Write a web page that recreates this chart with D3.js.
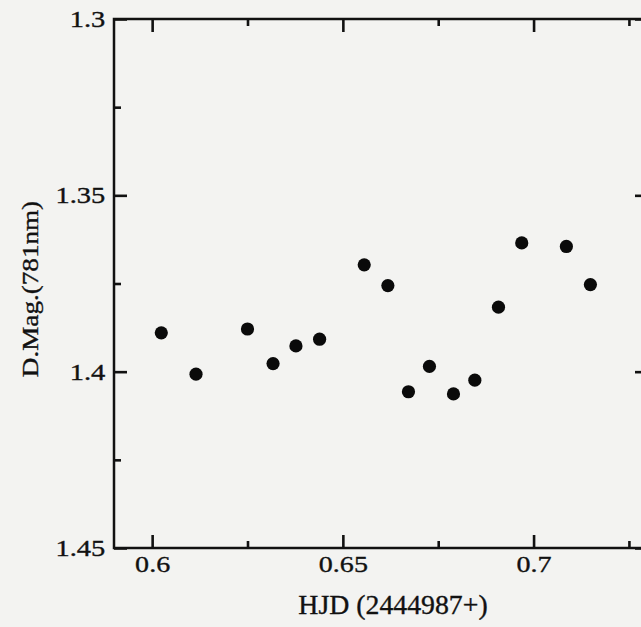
<!DOCTYPE html>
<html>
<head>
<meta charset="utf-8">
<script src="https://cdn.jsdelivr.net/npm/d3@7"></script>
<style>
  html, body { margin: 0; padding: 0; background: #f3f3f1; }
  svg { display: block; }
  text { font-family: "Liberation Serif", "Times New Roman", serif; fill: #111; }
</style>
</head>
<body>
<svg id="chart" width="641" height="627"></svg>
<script>
// Light curve: differential magnitude at 781 nm against heliocentric Julian date
const hjd  = [0.6024, 0.6115, 0.6250, 0.6317, 0.6377, 0.6439, 0.6556, 0.6618,
              0.6672, 0.6727, 0.6790, 0.6846, 0.6908, 0.6969, 0.7086, 0.7149];
const dmag = [1.3890, 1.4007, 1.3879, 1.3977, 1.3927, 1.3908, 1.3697, 1.3756,
              1.4057, 1.3985, 1.4063, 1.4024, 1.3817, 1.3635, 1.3645, 1.3753];

const xMajor = [0.6, 0.65, 0.7];
const xMinor = [0.625, 0.675, 0.725];
const xTickLabels = ["0.6", "0.65", "0.7"];
const yMajor = [1.3, 1.35, 1.4, 1.45];
const yMinor = [1.325, 1.375, 1.425];
const yTickLabels = ["1.3", "1.35", "1.4", "1.45"];

const xTitle = "HJD (2444987+)";
const yTitle = "D.Mag.(781nm)";

const svg = d3.select("#chart");
const plotLeft = 114, plotRight = 648, plotTop = 19, plotBottom = 548;

const x = d3.scaleLinear().domain([0.59, 0.73]).range([plotLeft, plotRight]);
const y = d3.scaleLinear().domain([1.3, 1.45]).range([plotTop, plotBottom]);

const major = 13, minor = 7;

// strip the axis line, thicken ticks, set the serif labels (slightly wide, as typeset)
function styleAxis(g, fontSize, widen) {
  g.select(".domain").remove();
  g.selectAll(".tick line").attr("stroke", "#111").attr("stroke-width", 2.6);
  g.selectAll(".tick text")
    .attr("fill", "#111")
    .attr("stroke", "#111")
    .attr("stroke-width", 0.35)
    .attr("transform", `scale(${widen},1)`)
    .style("font-family", '"Liberation Serif", "Times New Roman", serif')
    .style("font-size", fontSize + "px");
}

// bottom axis: inward ticks, labelled majors
svg.append("g").attr("transform", `translate(0,${plotBottom})`)
  .call(d3.axisBottom(x).tickValues(xMajor).tickSize(-major).tickPadding(7)
        .tickFormat((d, i) => xTickLabels[i]))
  .call(g => styleAxis(g, 24, 1.17));
svg.append("g").attr("transform", `translate(0,${plotBottom})`)
  .call(d3.axisBottom(x).tickValues(xMinor).tickSize(-minor).tickFormat(""))
  .call(g => styleAxis(g, 24, 1));

// top axis: ticks only
svg.append("g").attr("transform", `translate(0,${plotTop})`)
  .call(d3.axisTop(x).tickValues(xMajor).tickSize(-major).tickFormat(""))
  .call(g => styleAxis(g, 24, 1));
svg.append("g").attr("transform", `translate(0,${plotTop})`)
  .call(d3.axisTop(x).tickValues(xMinor).tickSize(-minor).tickFormat(""))
  .call(g => styleAxis(g, 24, 1));

// left axis: inward ticks, labelled majors
svg.append("g").attr("transform", `translate(${plotLeft},0)`)
  .call(d3.axisLeft(y).tickValues(yMajor).tickSize(-major).tickPadding(7)
        .tickFormat((d, i) => yTickLabels[i]))
  .call(g => styleAxis(g, 23, 1.24));
svg.append("g").attr("transform", `translate(${plotLeft},0)`)
  .call(d3.axisLeft(y).tickValues(yMinor).tickSize(-minor).tickFormat(""))
  .call(g => styleAxis(g, 23, 1));

// right axis: ticks only
svg.append("g").attr("transform", `translate(${plotRight},0)`)
  .call(d3.axisRight(y).tickValues(yMajor).tickSize(-major).tickFormat(""))
  .call(g => styleAxis(g, 23, 1));
svg.append("g").attr("transform", `translate(${plotRight},0)`)
  .call(d3.axisRight(y).tickValues(yMinor).tickSize(-minor).tickFormat(""))
  .call(g => styleAxis(g, 23, 1));

// frame
svg.append("rect")
  .attr("x", plotLeft).attr("y", plotTop)
  .attr("width", plotRight - plotLeft).attr("height", plotBottom - plotTop)
  .attr("fill", "none").attr("stroke", "#111").attr("stroke-width", 2.5);

// observations
svg.append("g").selectAll("circle")
  .data(hjd.map((t, i) => [t, dmag[i]]))
  .join("circle")
  .attr("cx", d => x(d[0]))
  .attr("cy", d => y(d[1]))
  .attr("r", 6.6)
  .attr("fill", "#0a0a0a");

// axis titles
svg.append("text")
  .attr("transform", "translate(393,614) scale(1.03,1)")
  .attr("text-anchor", "middle")
  .attr("stroke", "#111").attr("stroke-width", 0.35)
  .style("font-size", "27px")
  .text(xTitle);

svg.append("text")
  .attr("transform", "translate(38,289) rotate(-90) scale(1.18,1)")
  .attr("text-anchor", "middle")
  .attr("stroke", "#111").attr("stroke-width", 0.35)
  .style("font-size", "23px")
  .text(yTitle);
</script>
</body>
</html>
